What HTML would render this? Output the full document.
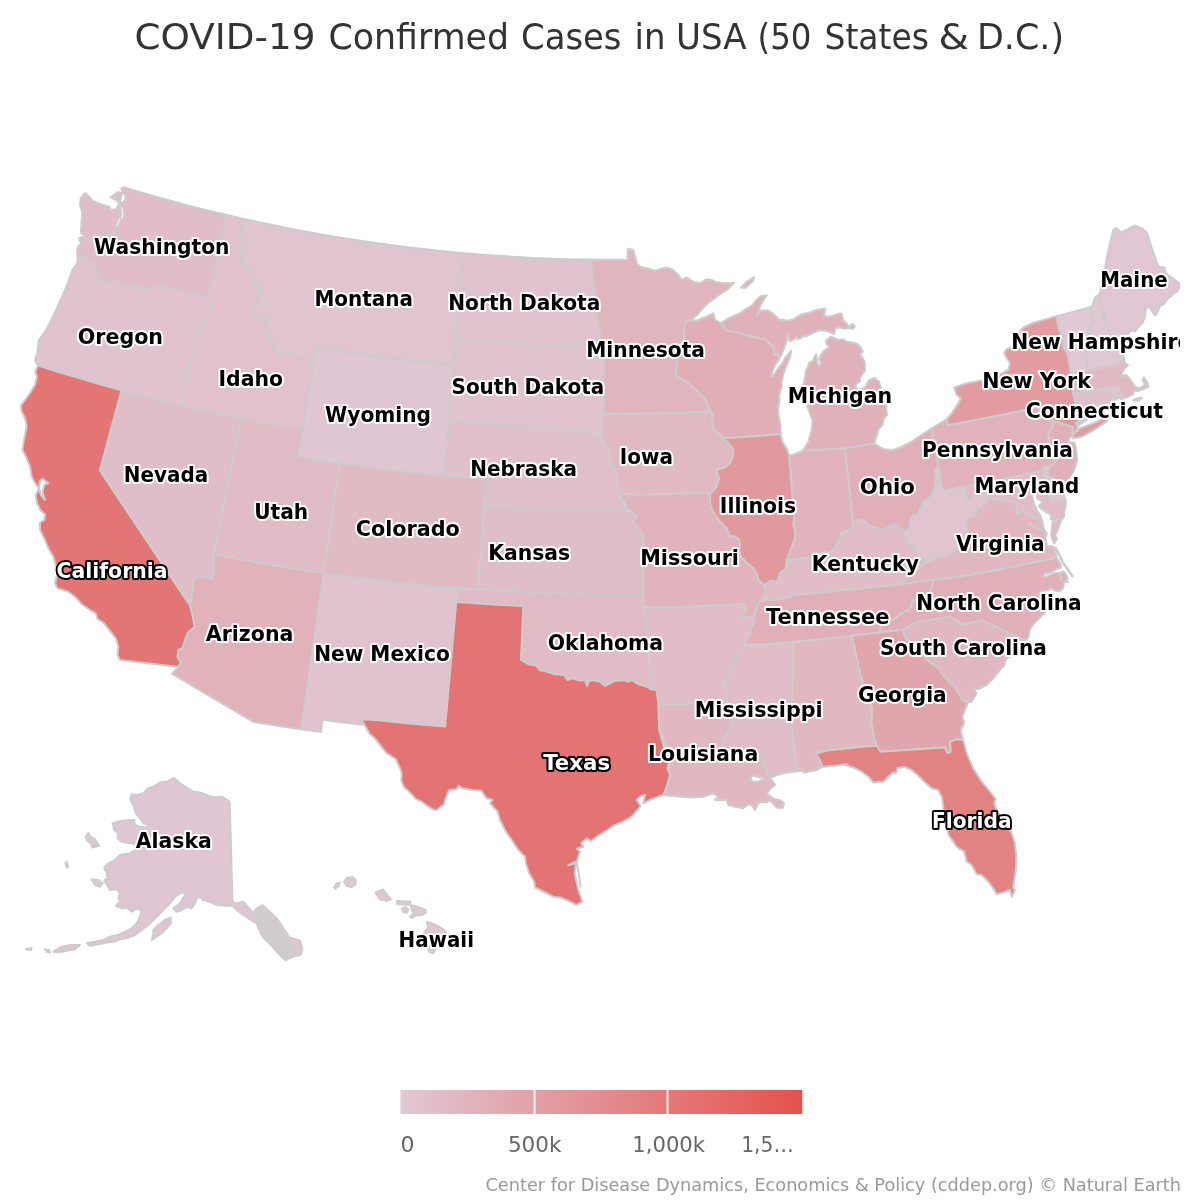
<!DOCTYPE html><html lang="en"><head><meta charset="utf-8"><title>COVID-19 Confirmed Cases in USA (50 States &amp; D.C.)</title>
<style>html,body{margin:0;padding:0;background:#fff}svg{display:block}text{font-family:"DejaVu Sans","Liberation Sans",sans-serif}
.st{stroke:#ccc;stroke-width:2;stroke-linejoin:round}.lb{font-weight:bold;font-size:21px;text-anchor:middle;paint-order:stroke;stroke-linejoin:round}
.d{fill:#000;stroke:#fff;stroke-width:4px}.l{fill:#fff;stroke:#000;stroke-width:4px}</style></head><body>
<svg width="1200" height="1200" viewBox="0 0 1200 1200">
<defs><clipPath id="plot"><rect x="20" y="0" width="1160" height="1200"/></clipPath>
<linearGradient id="lg" x1="0" x2="1" y1="0" y2="0"><stop offset="0" stop-color="#e0c8d4"/><stop offset="1" stop-color="#e5514b"/></linearGradient></defs>
<rect width="1200" height="1200" fill="#fff"/>
<text y="48.5" font-size="36" fill="#333"><tspan x="134.5" textLength="181" lengthAdjust="spacingAndGlyphs">COVID-19</tspan> <tspan x="328.5" textLength="180.5" lengthAdjust="spacingAndGlyphs">Confirmed</tspan> <tspan x="521" textLength="100.5" lengthAdjust="spacingAndGlyphs">Cases</tspan> <tspan x="634.5" textLength="31" lengthAdjust="spacingAndGlyphs">in</tspan> <tspan x="676" textLength="70.5" lengthAdjust="spacingAndGlyphs">USA</tspan> <tspan x="757.5" textLength="54" lengthAdjust="spacingAndGlyphs">(50</tspan> <tspan x="824.5" textLength="104.5" lengthAdjust="spacingAndGlyphs">States</tspan> <tspan x="938.5" textLength="30.5" lengthAdjust="spacingAndGlyphs">&amp;</tspan> <tspan x="977" textLength="87" lengthAdjust="spacingAndGlyphs">D.C.)</tspan></text>
<g clip-path="url(#plot)"><g class="st">
<path id="VT" fill="#e0c8d4" fill-rule="evenodd" d="M1056.7 316.1L1072.8 311.9L1072.8 311.9L1091.9 306.7L1090.8 309.2L1093.3 320.0L1089.2 329.2L1087.0 340.0L1085.8 351.7L1086.7 361.7L1087.5 370.5L1070.8 374.0L1069.2 363.3L1067.5 353.3L1063.3 346.7L1061.7 336.7L1058.3 326.7Z"/>
<path id="ME" fill="#e0c7d3" fill-rule="evenodd" d="M1097.5 295.8L1100.0 293.3L1104.2 275.0L1106.7 258.3L1110.0 243.3L1113.3 230.0L1115.8 228.0L1121.7 232.5L1126.7 230.0L1135.0 225.5L1141.7 228.3L1146.7 232.5L1155.8 260.0L1158.3 266.7L1164.2 267.5L1165.8 273.3L1171.7 277.5L1179.2 283.3L1180.5 285.0L1177.3 291.8L1174.3 292.5L1172.0 295.5L1167.5 298.5L1165.3 302.3L1162.3 305.3L1161.0 303.0L1159.0 308.5L1157.0 313.5L1155.1 315.4L1152.5 312.0L1149.1 306.0L1145.8 309.0L1145.0 316.5L1142.8 322.5L1139.0 326.3L1135.3 331.5L1133.0 330.0L1130.0 331.5L1126.3 335.3L1122.5 341.0L1119.2 346.7L1110.5 336.0L1107.8 328.3L1100.0 303.0Z"/>
<path id="NH" fill="#e0c7d3" fill-rule="evenodd" d="M1091.9 306.7L1095.0 297.5L1097.5 295.8L1100.0 303.0L1107.8 328.3L1110.5 336.0L1119.2 346.7L1122.5 353.3L1124.2 358.3L1124.5 362.5L1122.5 360.5L1116.7 364.5L1087.5 370.5L1086.7 361.7L1085.8 351.7L1087.0 340.0L1089.2 329.2L1093.3 320.0L1090.8 309.2Z"/>
<path id="HI" fill="#e0c7d2" fill-rule="evenodd" d="M334.0 887.3L336.7 883.3L339.7 882.7L338.7 886.0L335.3 888.7ZM344.0 882.0L346.7 878.0L352.7 877.1L355.7 880.0L355.3 884.7L351.3 887.1L346.7 886.0ZM375.3 892.7L382.7 889.3L386.7 894.0L390.7 899.3L386.7 900.7L380.0 899.3ZM396.7 901.1L410.7 901.7L409.6 904.7L397.3 904.3ZM402.0 908.7L405.3 906.9L408.3 909.6L406.7 912.7L403.3 912.0ZM410.7 905.3L414.7 906.0L418.7 907.3L425.3 910.0L426.0 912.7L421.3 915.3L416.0 915.3L412.0 910.7ZM409.6 916.7L412.7 914.4L414.9 916.0L412.7 918.0ZM426.7 922.0L430.7 922.7L438.7 926.7L445.3 930.7L446.7 934.7L440.0 942.7L436.0 948.0L433.3 953.3L429.3 952.0L426.7 945.3L424.7 938.7L424.0 932.7L428.0 928.0Z"/>
<path id="WY" fill="#e0c6d2" fill-rule="evenodd" d="M316.3 347.3L336.8 350.7L356.4 353.6L376.0 356.3L395.7 358.8L415.3 361.1L435.0 363.1L453.7 364.9L448.8 420.4L443.9 475.7L424.0 473.8L403.1 471.6L382.2 469.2L361.4 466.6L339.5 463.5L319.8 460.6L319.8 460.6L298.0 457.1L302.6 429.7L313.9 361.9Z"/>
<path id="AK" fill="#e0c6d2" fill-rule="evenodd" d="M174.2 778.0L166.7 781.7L160.0 782.5L153.3 786.7L148.3 788.3L143.3 793.3L136.7 795.0L131.7 794.2L130.0 799.2L133.3 805.0L135.8 813.3L140.0 818.3L143.3 823.3L148.3 825.0L146.7 827.5L140.0 826.7L135.0 825.0L134.2 820.0L130.0 820.0L121.7 820.8L112.5 823.3L114.2 830.0L118.3 833.3L117.5 838.3L121.7 841.7L130.0 843.3L136.7 844.2L137.5 848.3L130.0 853.3L120.0 855.0L115.0 860.0L108.3 863.3L104.2 867.5L106.7 873.3L107.5 878.3L104.2 880.8L108.3 886.7L110.0 890.0L116.7 889.2L120.0 893.3L118.3 898.3L120.0 901.7L115.8 905.8L121.7 908.3L126.7 907.5L131.7 911.7L136.7 908.3L141.7 910.8L140.0 916.7L136.7 923.3L131.7 928.3L125.0 931.7L118.3 935.0L110.0 936.7L103.3 940.0L95.0 941.7L86.7 943.3L90.0 945.8L98.3 944.2L106.7 942.5L113.3 941.7L120.0 939.2L126.7 938.3L135.0 935.0L141.7 930.0L148.3 925.0L153.3 920.0L158.3 915.0L165.0 908.3L170.0 903.3L175.0 896.7L180.0 893.3L185.0 891.7L182.5 890.8L185.0 895.0L180.0 903.3L173.3 908.3L176.7 911.7L181.7 910.0L186.7 906.7L191.7 908.3L195.0 903.3L196.7 898.3L200.0 896.7L203.3 900.0L210.0 901.7L216.7 905.0L226.7 905.8L232.5 905.8L237.5 910.8L250.8 920.0L256.7 923.3L258.3 928.3L263.3 937.5L271.7 945.8L278.3 953.3L285.4 960.4L289.2 958.3L295.0 956.2L300.0 955.0L302.5 949.2L300.0 940.8L289.2 937.5L286.7 933.3L276.7 918.3L262.5 905.0L256.7 908.3L253.3 913.3L243.3 901.7L237.0 903.5L232.5 902.5L229.7 801.7L221.7 796.7L216.7 797.5L208.3 795.8L200.0 792.5L193.3 791.7L186.7 787.5L180.0 783.3ZM85.8 836.7L88.3 833.0L90.8 836.7L95.0 839.2L99.2 845.8L95.0 846.7L92.5 847.5L90.8 843.3L86.7 840.0ZM91.7 879.2L98.3 880.0L102.5 883.3L100.0 886.7L95.0 885.0ZM65.3 863.3L66.7 861.7L68.3 866.7L66.7 867.5ZM153.3 930.0L158.3 925.0L165.0 920.0L170.8 917.5L170.8 923.3L166.7 928.3L161.7 933.3L156.7 936.7L151.7 940.0L153.3 935.0ZM53.3 951.7L60.0 947.5L70.0 945.0L80.0 945.0L75.0 949.2L66.7 950.8L58.3 952.5ZM45.0 949.2L49.2 950.0L50.0 952.5L46.7 951.7ZM25.8 949.2L31.7 948.0L30.8 950.0Z"/>
<path id="DE" fill="#e0c6d1" fill-rule="evenodd" d="M1042.0 470.8L1043.0 468.3L1045.6 466.5L1049.2 466.6L1047.1 473.0L1048.3 477.0L1053.1 481.6L1054.7 486.9L1060.8 491.2L1062.9 493.6L1066.0 500.3L1050.5 501.8Z"/>
<path id="WV" fill="#e0c5d1" fill-rule="evenodd" d="M905.0 531.7L910.0 528.3L910.0 523.3L913.3 515.0L917.5 515.0L920.0 508.3L923.3 501.7L930.8 496.7L934.2 490.0L935.8 480.0L935.0 471.7L938.4 465.4L942.7 490.5L964.6 486.6L966.5 501.0L971.0 497.5L976.0 493.5L981.0 491.5L986.0 493.0L990.0 497.0L986.0 504.0L980.0 508.0L978.3 508.3L973.3 516.7L967.5 518.3L966.7 525.0L966.7 531.7L963.3 540.0L960.0 546.7L953.3 551.7L946.7 556.7L940.0 555.8L933.3 560.0L926.7 561.7L923.3 560.0L916.7 553.3L911.7 546.7L906.7 540.0Z"/>
<path id="RI" fill="#e0c5d0" fill-rule="evenodd" d="M1111.7 400.0L1109.2 387.5L1119.0 386.2L1120.0 390.0L1122.5 394.5L1124.5 398.0L1121.0 399.5L1119.0 397.5L1116.0 399.5Z"/>
<path id="MT" fill="#e0c4d0" fill-rule="evenodd" d="M243.7 218.9L262.8 223.1L281.0 226.8L299.2 230.4L317.4 233.7L335.7 236.9L354.0 239.8L372.4 242.6L390.8 245.1L409.2 247.5L427.6 249.6L446.1 251.5L463.6 253.2L456.0 338.8L453.7 364.9L435.0 363.1L415.3 361.1L395.7 358.8L376.0 356.3L356.4 353.6L336.8 350.7L316.3 347.3L313.9 361.9L300.0 357.5L290.0 352.5L277.5 355.0L275.0 345.0L271.2 340.0L265.0 317.5L260.0 320.0L252.5 317.5L255.0 307.5L261.2 290.0L255.0 285.0L250.0 270.0L241.2 260.0L238.8 247.5Z"/>
<path id="OR" fill="#e0c3cf" fill-rule="evenodd" d="M77.5 255.3L86.7 258.3L93.3 264.2L96.3 270.0L98.3 277.5L102.5 281.3L110.0 282.0L116.7 280.3L122.5 285.0L126.7 285.8L135.0 285.0L143.3 288.7L153.3 286.7L170.0 287.5L208.8 297.3L213.8 307.5L207.5 320.0L197.5 332.5L192.5 340.0L197.5 346.2L192.6 356.6L181.1 405.3L161.6 400.6L141.5 395.5L121.5 390.2L101.5 384.7L81.6 378.9L61.8 373.0L37.9 365.5L35.0 360.0L37.5 352.5L38.8 340.0L46.2 330.0L53.8 315.0L66.2 287.5L72.5 270.0L77.5 262.5Z"/>
<path id="ND" fill="#e0c3ce" fill-rule="evenodd" d="M463.6 253.2L483.1 254.8L501.6 256.1L520.1 257.2L538.6 258.2L557.2 258.9L575.7 259.4L590.0 259.6L592.5 271.7L593.3 285.0L595.8 296.7L597.5 310.0L598.3 323.3L600.0 333.3L600.8 343.3L583.6 345.5L565.7 345.1L547.9 344.5L530.0 343.8L512.1 342.8L494.3 341.7L476.5 340.5L456.0 338.8Z"/>
<path id="NM" fill="#e0c3ce" fill-rule="evenodd" d="M323.6 573.3L346.8 576.5L368.8 579.3L390.9 581.9L413.0 584.2L435.2 586.3L457.3 588.1L456.3 601.9L445.2 726.5L423.0 724.7L399.3 722.5L375.7 720.0L361.3 719.2L362.4 724.7L339.5 721.9L339.5 721.9L322.7 719.7L321.0 732.1L301.1 729.3Z"/>
<path id="SD" fill="#e0c3ce" fill-rule="evenodd" d="M456.0 338.8L476.5 340.5L494.3 341.7L512.1 342.8L530.0 343.8L547.9 344.5L565.7 345.1L583.6 345.5L600.8 343.3L602.5 353.3L605.0 360.0L603.7 365.0L603.8 413.7L601.7 418.3L603.3 425.0L600.8 431.7L600.8 435.3L593.3 435.3L585.0 432.0L576.7 430.3L570.0 432.0L561.7 426.7L551.7 426.6L531.3 425.9L510.9 424.9L490.5 423.6L470.2 422.2L448.8 420.4L453.7 364.9Z"/>
<path id="ID" fill="#e0c1cc" fill-rule="evenodd" d="M226.0 214.8L243.7 218.9L238.8 247.5L241.2 260.0L250.0 270.0L255.0 285.0L261.2 290.0L255.0 307.5L252.5 317.5L260.0 320.0L265.0 317.5L271.2 340.0L275.0 345.0L277.5 355.0L290.0 352.5L300.0 357.5L313.9 361.9L302.6 429.7L283.2 426.3L262.8 422.6L241.6 418.5L222.2 414.5L201.9 410.0L181.1 405.3L192.6 356.6L197.5 346.2L192.5 340.0L197.5 332.5L207.5 320.0L213.8 307.5L208.8 297.3L210.3 285.0L212.5 276.7L214.2 270.0Z"/>
<path id="CT" fill="#e0c0cb" fill-rule="evenodd" d="M1073.3 394.2L1109.2 387.5L1111.7 400.0L1102.4 411.6L1091.4 415.1L1088.1 418.8L1077.7 425.8L1075.6 423.4L1080.0 419.2L1077.9 417.1L1076.0 407.0Z"/>
<path id="NE" fill="#e0c0cb" fill-rule="evenodd" d="M448.8 420.4L470.2 422.2L490.5 423.6L510.9 424.9L531.3 425.9L551.7 426.6L561.7 426.7L570.0 432.0L576.7 430.3L585.0 432.0L593.3 435.3L600.8 435.3L605.0 443.3L608.3 450.0L610.8 456.7L611.7 463.3L615.0 470.0L616.7 478.3L617.5 486.7L620.0 493.3L622.5 500.0L626.7 506.7L627.6 510.9L612.9 510.9L591.5 510.8L570.2 510.5L548.9 509.9L527.6 509.1L506.3 508.0L484.0 506.6L485.8 479.0L465.9 477.5L465.9 477.5L443.9 475.7Z"/>
<path id="NV" fill="#e0bec9" fill-rule="evenodd" d="M121.5 390.2L141.5 395.5L161.6 400.6L181.1 405.3L201.9 410.0L222.2 414.5L241.6 418.5L214.1 554.4L213.3 579.2L205.0 577.5L196.7 575.8L193.3 581.7L192.5 595.0L190.0 605.8L99.8 470.5Z"/>
<path id="KS" fill="#e0bec9" fill-rule="evenodd" d="M484.0 506.6L506.3 508.0L527.6 509.1L548.9 509.9L570.2 510.5L591.5 510.8L612.9 510.9L627.6 510.9L631.7 511.7L636.7 515.8L633.3 523.3L640.0 530.0L643.3 535.0L643.6 593.9L635.1 594.0L612.9 594.1L590.6 594.0L568.4 593.6L546.2 593.0L523.9 592.1L501.7 591.0L478.4 589.6Z"/>
<path id="WA" fill="#e0bdc8" fill-rule="evenodd" d="M123.3 187.2L136.9 191.2L154.7 196.4L172.6 201.3L190.5 206.1L208.5 210.6L226.0 214.8L214.2 270.0L212.5 276.7L210.3 285.0L208.8 297.3L170.0 287.5L153.3 286.7L143.3 288.7L135.0 285.0L126.7 285.8L122.5 285.0L116.7 280.3L110.0 282.0L102.5 281.3L98.3 277.5L96.3 270.0L93.3 264.2L86.7 258.3L77.5 255.3L77.0 250.7L78.3 246.7L81.7 243.0L79.7 241.0L79.3 238.0L85.3 236.0L81.3 233.3L81.0 230.7L81.7 220.0L82.3 212.0L80.0 205.3L80.7 198.0L85.3 193.0L93.3 201.3L102.0 204.7L109.3 206.7L110.3 209.3L115.3 210.0L117.0 207.7L119.0 204.0L123.3 202.0L125.7 199.3L125.3 195.3L123.3 192.7L121.3 188.7Z"/>
<path id="AR" fill="#e0bdc8" fill-rule="evenodd" d="M643.8 607.7L668.8 607.2L687.5 606.6L706.1 605.8L724.8 604.9L744.2 603.7L746.7 609.2L743.3 614.2L739.7 617.5L754.2 616.7L753.3 624.2L750.0 628.3L750.8 633.3L747.5 638.3L745.0 644.2L739.2 653.3L735.8 660.0L733.3 666.7L728.3 671.7L729.2 676.7L724.2 683.3L725.8 690.0L727.5 698.3L726.7 703.0L706.7 703.1L683.2 704.0L658.3 704.2L656.7 690.0L650.8 689.2L649.2 663.3L646.7 630.0Z"/>
<path id="MS" fill="#e0bdc8" fill-rule="evenodd" d="M745.0 644.2L761.3 644.3L779.5 642.9L793.3 641.7L791.7 726.7L796.7 768.3L802.5 770.8L798.3 771.3L786.7 772.5L776.7 775.0L769.2 778.7L766.7 771.7L763.3 763.3L761.7 755.0L757.2 756.2L733.2 757.7L720.0 755.0L721.7 750.0L722.5 742.5L725.8 735.0L730.0 728.3L733.3 720.0L730.0 711.7L726.7 703.0L727.5 698.3L725.8 690.0L724.2 683.3L729.2 676.7L728.3 671.7L733.3 666.7L735.8 660.0L739.2 653.3Z"/>
<path id="KY" fill="#e0bdc7" fill-rule="evenodd" d="M786.7 560.0L790.0 559.2L796.7 560.0L803.3 557.5L810.0 558.3L818.3 553.3L825.0 551.7L830.0 553.3L836.7 545.0L840.0 538.3L840.8 533.3L846.7 531.7L851.7 528.3L853.3 523.3L856.7 520.8L863.3 520.0L868.3 525.0L873.3 526.7L880.0 530.0L886.7 528.3L895.0 523.3L898.3 527.5L905.0 531.7L906.7 540.0L911.7 546.7L916.7 553.3L923.3 560.0L926.7 561.7L920.0 566.7L911.7 575.0L903.3 581.7L895.0 585.0L860.0 588.7L826.7 591.7L790.8 595.5L790.0 598.0L760.0 601.3L764.2 598.3L765.8 590.8L764.0 585.0L770.8 580.8L777.5 581.7L780.0 573.3L785.8 568.3Z"/>
<path id="UT" fill="#e1bbc6" fill-rule="evenodd" d="M241.6 418.5L262.8 422.6L283.2 426.3L302.6 429.7L298.0 457.1L319.8 460.6L319.8 460.6L339.5 463.5L323.6 573.3L302.7 570.2L280.8 566.6L258.9 562.9L237.0 558.8L214.1 554.4Z"/>
<path id="OK" fill="#e1bbc6" fill-rule="evenodd" d="M457.3 588.1L478.4 589.6L501.7 591.0L523.9 592.1L546.2 593.0L568.4 593.6L590.6 594.0L612.9 594.1L635.1 594.0L643.6 593.9L643.8 607.7L646.7 630.0L649.2 663.3L650.8 689.2L646.7 686.7L638.3 684.2L631.7 680.0L628.3 681.7L623.3 680.0L620.0 680.8L615.0 680.8L605.0 685.8L600.0 681.7L593.3 680.0L589.2 680.8L587.0 685.8L585.0 680.0L580.0 680.8L573.3 678.3L567.5 680.0L564.2 675.0L555.0 674.2L545.8 671.3L539.2 670.0L536.7 665.8L528.3 664.2L521.0 659.8L523.3 606.0L501.0 604.9L478.6 603.5L456.3 601.9Z"/>
<path id="MD" fill="#e1bbc5" fill-rule="evenodd" d="M964.6 486.6L985.2 482.7L1006.2 478.5L1027.2 474.1L1042.0 470.8L1050.5 501.8L1066.0 500.3L1065.5 507.5L1064.0 512.0L1064.0 516.5L1052.5 522.5L1053.5 518.0L1050.9 519.5L1051.2 514.2L1047.5 512.8L1041.5 509.0L1038.5 506.0L1043.0 502.2L1037.0 498.5L1036.8 488.1L1040.6 480.2L1038.6 476.4L1036.4 481.1L1031.9 487.8L1032.8 494.7L1031.8 496.2L1034.8 505.2L1037.0 510.5L1040.0 515.0L1042.2 521.0L1034.8 518.0L1027.2 514.2L1022.0 509.8L1019.0 514.2L1016.0 512.0L1017.5 506.8L1015.0 503.0L1008.0 501.0L998.0 500.0L990.0 497.0L986.0 493.0L981.0 491.5L976.0 493.5L971.0 497.5L966.5 501.0Z"/>
<path id="CO" fill="#e1bbc4" fill-rule="evenodd" d="M339.5 463.5L361.4 466.6L382.2 469.2L403.1 471.6L424.0 473.8L443.9 475.7L465.9 477.5L465.9 477.5L485.8 479.0L484.0 506.6L478.4 589.6L457.3 588.1L435.2 586.3L413.0 584.2L390.9 581.9L368.8 579.3L346.8 576.5L323.6 573.3Z"/>
<path id="IA" fill="#e1b9c3" fill-rule="evenodd" d="M603.8 413.7L623.0 413.7L640.7 413.5L658.4 413.2L676.1 412.7L693.9 412.0L709.6 411.2L710.0 410.0L712.5 415.0L712.5 421.7L714.2 430.0L719.2 433.3L723.0 438.0L728.3 443.3L733.3 449.2L733.3 455.0L730.8 461.7L725.0 467.5L718.3 469.2L716.7 473.3L719.2 478.3L716.7 486.7L711.7 492.5L710.0 494.0L697.4 493.0L676.3 493.8L655.2 494.4L634.0 494.7L620.0 493.3L617.5 486.7L616.7 478.3L615.0 470.0L611.7 463.3L610.8 456.7L608.3 450.0L605.0 443.3L600.8 435.3L600.8 431.7L603.3 425.0L601.7 418.3Z"/>
<path id="MA" fill="#e1b9c3" fill-rule="evenodd" d="M1070.8 374.0L1087.5 370.5L1116.7 364.5L1122.5 360.5L1124.5 362.5L1128.0 365.0L1124.0 369.0L1122.0 373.0L1121.0 376.5L1126.0 375.0L1130.0 379.0L1133.0 384.0L1136.0 387.5L1140.5 388.0L1145.0 384.5L1142.5 379.5L1144.0 377.5L1147.0 382.0L1148.5 386.5L1144.0 389.0L1138.0 391.0L1134.5 390.0L1133.0 394.5L1130.0 395.0L1128.0 397.0L1124.5 398.0L1122.5 394.5L1120.0 390.0L1119.0 386.2L1109.2 387.5L1073.3 394.2ZM1133.0 400.5L1137.5 398.5L1142.0 397.8L1139.0 400.8Z"/>
<path id="SC" fill="#e1b8c2" fill-rule="evenodd" d="M902.5 630.0L916.7 621.7L950.0 616.7L958.3 620.8L960.0 624.2L983.3 620.8L1025.8 640.8L1020.0 650.0L1006.7 658.3L1004.2 665.0L1000.0 670.0L993.3 678.3L986.7 685.0L978.3 689.2L973.3 688.3L976.7 693.3L971.7 701.7L968.0 702.5L962.5 700.0L955.0 687.5L945.0 677.5L937.5 667.5L930.0 662.5L922.5 655.0L912.5 645.0L905.0 637.5Z"/>
<path id="LA" fill="#e1b8c1" fill-rule="evenodd" d="M658.3 704.2L683.2 704.0L706.7 703.1L726.7 703.0L730.0 711.7L733.3 720.0L730.0 728.3L725.8 735.0L722.5 742.5L721.7 750.0L720.0 755.0L733.2 757.7L757.2 756.2L761.7 755.0L763.3 763.3L766.7 771.7L769.2 778.7L772.5 780.8L775.0 785.0L770.8 788.3L766.7 793.3L770.8 796.7L775.0 799.2L780.0 800.0L784.2 803.3L782.5 808.3L776.7 807.5L770.0 800.0L766.7 802.5L761.7 801.7L758.3 803.3L755.0 810.0L750.8 804.2L746.7 805.0L743.3 808.3L735.0 806.7L728.3 805.0L726.7 800.0L715.0 800.0L718.3 796.7L713.3 793.3L708.3 795.0L703.3 796.7L693.3 797.5L681.7 796.7L670.0 795.8L663.3 795.0L666.7 786.7L670.0 775.0L667.5 768.3L670.0 760.0L665.0 746.7L664.2 740.0L659.2 730.0L670.0 768.3L668.3 760.0L666.7 748.3L664.2 740.0L659.2 730.0ZM750.0 780.0L752.5 775.3L760.0 777.5L764.2 779.2L758.3 781.7L753.3 781.7Z"/>
<path id="VA" fill="#e1b8c1" fill-rule="evenodd" d="M895.0 585.0L903.3 581.7L911.7 575.0L920.0 566.7L926.7 561.7L933.3 560.0L940.0 555.8L946.7 556.7L953.3 551.7L960.0 546.7L963.3 540.0L966.7 531.7L966.7 525.0L967.5 518.3L973.3 516.7L978.3 508.3L980.0 508.0L986.0 504.0L990.0 497.0L998.0 500.0L1008.0 501.0L1015.0 503.0L1017.5 506.8L1016.0 512.0L1019.0 514.2L1022.0 509.8L1027.2 514.2L1034.8 518.0L1042.2 521.0L1043.8 528.5L1046.8 533.8L1045.2 537.5L1046.8 545.0L1049.0 546.5L1052.0 546.0L1055.0 548.0L1056.5 557.7L1045.9 559.9L1024.0 564.6L1002.0 569.0L980.1 573.2L958.0 577.1L933.3 580.0ZM1064.0 516.5L1061.0 521.0L1058.8 527.0L1055.8 533.8L1055.0 535.2L1056.9 539.0L1054.2 543.5L1053.5 542.0L1051.2 536.0L1052.0 527.0L1052.5 522.5Z"/>
<path id="AL" fill="#e1b7c0" fill-rule="evenodd" d="M793.3 641.7L806.8 640.5L823.9 638.8L840.9 637.0L851.7 635.8L862.5 682.5L872.5 707.5L871.5 720.0L873.3 733.3L876.7 745.8L865.1 746.4L847.2 748.4L829.2 750.3L815.8 753.3L820.0 760.0L822.5 766.7L816.7 770.0L810.0 771.2L804.2 772.7L802.5 770.8L796.7 768.3L791.7 726.7Z"/>
<path id="MN" fill="#e1b5be" fill-rule="evenodd" d="M590.0 259.6L603.6 259.8L622.1 259.8L627.5 260.0L627.8 248.7L633.3 249.7L636.7 263.3L640.0 266.7L646.7 268.3L655.0 270.8L660.0 269.2L666.7 267.5L673.3 270.0L679.2 275.8L681.7 280.0L686.7 277.5L693.3 281.7L700.0 283.3L706.7 279.2L711.7 280.0L715.0 281.7L723.3 283.3L734.2 283.0L726.7 290.0L716.7 296.7L706.7 304.2L700.0 311.7L693.3 318.3L689.2 320.8L685.0 322.5L684.2 330.0L684.2 340.0L680.8 346.7L678.3 356.7L676.7 366.7L675.8 375.0L681.7 379.2L688.3 383.3L698.3 391.7L706.7 400.0L709.6 411.2L693.9 412.0L676.1 412.7L658.4 413.2L640.7 413.5L623.0 413.7L603.8 413.7L603.7 365.0L605.0 360.0L602.5 353.3L600.8 343.3L600.0 333.3L598.3 323.3L597.5 310.0L595.8 296.7L593.3 285.0L592.5 271.7Z"/>
<path id="MO" fill="#e1b4bd" fill-rule="evenodd" d="M620.0 493.3L634.0 494.7L655.2 494.4L676.3 493.8L697.4 493.0L710.0 494.0L710.0 500.0L710.8 506.7L714.2 513.3L720.0 521.7L726.7 528.3L730.0 536.7L733.3 535.8L738.3 538.3L740.0 543.3L739.2 550.0L740.8 556.7L746.7 562.5L753.3 568.3L756.7 573.3L758.3 580.0L764.0 585.0L765.8 590.8L764.2 598.3L760.0 601.3L756.7 608.3L754.2 616.7L739.7 617.5L743.3 614.2L746.7 609.2L744.2 603.7L724.8 604.9L706.1 605.8L687.5 606.6L668.8 607.2L643.8 607.7L643.6 593.9L643.3 535.0L640.0 530.0L633.3 523.3L636.7 515.8L631.7 511.7L627.6 510.9L626.7 506.7L622.5 500.0Z"/>
<path id="IN" fill="#e1b3bc" fill-rule="evenodd" d="M789.2 455.8L795.0 454.2L803.3 450.3L845.0 448.3L853.3 523.3L851.7 528.3L846.7 531.7L840.8 533.3L840.0 538.3L836.7 545.0L830.0 553.3L825.0 551.7L818.3 553.3L810.0 558.3L803.3 557.5L796.7 560.0L790.0 559.2L786.7 560.0L789.2 553.3L791.7 546.7L795.0 538.3L795.3 531.7L793.3 524.2L794.2 516.7L791.3 483.3Z"/>
<path id="PA" fill="#e1b2bb" fill-rule="evenodd" d="M931.7 428.3L940.0 423.3L946.7 419.2L947.5 425.0L962.9 422.6L983.3 418.6L1003.6 414.5L1023.8 410.0L1036.9 407.1L1041.9 410.2L1045.5 416.5L1049.5 419.8L1054.4 421.2L1051.2 428.8L1047.9 433.9L1049.7 436.9L1048.2 441.8L1051.8 444.9L1055.9 449.6L1060.4 452.9L1059.3 456.5L1055.1 461.8L1052.4 464.7L1049.2 466.6L1045.6 466.5L1043.0 468.3L1042.0 470.8L1027.2 474.1L1006.2 478.5L985.2 482.7L964.6 486.6L942.7 490.5L938.4 465.4Z"/>
<path id="AZ" fill="#e1b2ba" fill-rule="evenodd" d="M214.1 554.4L237.0 558.8L258.9 562.9L280.8 566.6L302.7 570.2L323.6 573.3L301.1 729.3L278.6 726.0L253.2 721.9L171.8 673.6L178.3 667.0L180.8 662.5L177.5 656.7L178.3 650.0L182.5 648.3L185.0 640.0L187.5 633.3L194.7 626.7L192.5 615.0L190.0 605.8L192.5 595.0L193.3 581.7L196.7 575.8L205.0 577.5L213.3 579.2Z"/>
<path id="NJ" fill="#e1b1ba" fill-rule="evenodd" d="M1054.4 421.2L1072.8 427.0L1072.2 435.7L1069.2 438.7L1068.7 442.9L1074.4 442.3L1076.1 449.0L1077.1 460.2L1074.5 469.4L1070.6 476.1L1066.2 485.7L1064.3 488.1L1064.1 481.3L1058.5 481.2L1052.1 477.6L1048.4 475.6L1048.1 471.4L1049.2 466.6L1052.4 464.7L1055.1 461.8L1059.3 456.5L1060.4 452.9L1055.9 449.6L1051.8 444.9L1048.2 441.8L1049.7 436.9L1047.9 433.9L1051.2 428.8Z"/>
<path id="MI" fill="#e1b1ba" fill-rule="evenodd" d="M720.8 323.3L728.3 318.3L736.7 315.0L740.0 313.1L746.2 308.8L752.5 305.0L756.2 300.0L760.6 296.2L766.9 295.2L763.8 299.4L760.0 306.2L758.8 310.6L757.2 316.0L760.6 310.6L768.8 310.6L773.8 314.4L778.8 319.4L787.5 320.6L793.8 319.4L801.2 314.4L810.0 312.5L816.2 310.0L823.1 308.8L825.6 308.8L823.8 315.0L827.5 316.9L833.1 315.6L838.8 313.8L841.9 313.8L843.1 320.6L846.9 323.8L848.8 328.1L844.4 328.8L840.0 327.5L835.6 328.1L834.0 334.0L827.5 331.2L820.0 330.0L813.8 332.5L806.2 336.2L803.3 336.0L802.0 337.3L798.0 339.3L796.7 336.7L794.0 339.3L792.7 340.0L790.0 341.3L788.3 335.0L786.7 340.7L784.7 346.7L782.0 353.3L778.7 360.0L777.5 353.8L774.4 355.0L773.1 346.2L769.4 343.8L765.0 339.4L756.2 337.5L747.5 335.6L740.0 333.1L726.7 330.8ZM803.3 450.3L808.3 441.7L811.7 430.0L812.5 420.0L811.2 417.5L808.8 410.0L806.9 405.0L806.2 398.8L805.0 390.0L802.5 386.7L804.2 381.7L805.4 375.8L805.8 370.0L808.3 366.7L808.8 362.9L812.9 360.8L814.2 357.5L816.2 354.2L816.7 358.3L817.5 363.3L819.2 366.7L820.8 363.3L819.2 359.2L820.8 355.0L823.3 351.2L826.7 349.2L829.2 346.7L826.7 344.2L825.8 340.8L828.3 338.8L830.8 336.7L834.2 337.9L838.3 340.0L843.3 339.2L846.7 341.7L852.5 342.5L857.5 344.2L860.8 347.5L862.9 351.7L860.0 354.2L863.3 359.2L865.0 363.3L865.0 370.8L862.5 374.2L860.0 378.3L860.0 381.7L856.7 383.3L855.4 385.8L857.5 390.0L862.0 389.0L865.8 386.7L868.3 380.8L874.2 377.9L878.8 381.2L881.2 388.8L883.8 397.5L886.2 407.5L886.9 415.0L883.8 418.8L882.5 425.0L878.8 428.8L877.5 433.8L874.2 443.7L845.0 448.3ZM850.0 325.6L852.5 324.0L854.8 326.2L853.1 329.0L850.6 328.5ZM741.0 287.5L747.0 281.5L754.0 277.0L753.0 281.0L745.0 288.0Z"/>
<path id="OH" fill="#e1afb8" fill-rule="evenodd" d="M845.0 448.3L874.2 443.7L883.3 449.2L893.3 450.0L901.7 446.7L911.7 441.7L921.7 435.0L931.7 428.3L938.4 465.4L935.0 471.7L935.8 480.0L934.2 490.0L930.8 496.7L923.3 501.7L920.0 508.3L917.5 515.0L913.3 515.0L910.0 523.3L910.0 528.3L905.0 531.7L898.3 527.5L895.0 523.3L886.7 528.3L880.0 530.0L873.3 526.7L868.3 525.0L863.3 520.0L856.7 520.8L853.3 523.3Z"/>
<path id="NC" fill="#e1afb7" fill-rule="evenodd" d="M879.0 632.5L882.5 622.5L892.5 620.0L900.0 614.0L910.0 609.0L912.5 601.0L922.5 597.5L930.0 592.5L933.3 580.0L958.0 577.1L980.1 573.2L1002.0 569.0L1024.0 564.6L1045.9 559.9L1056.5 557.7L1057.9 559.8L1060.8 564.5L1060.8 568.0L1056.2 569.2L1050.3 572.7L1043.9 573.8L1043.3 577.3L1049.2 575.6L1055.0 572.7L1060.3 572.7L1063.5 571.5L1066.0 574.5L1067.3 577.5L1067.8 582.5L1065.5 581.0L1064.3 583.0L1063.2 588.0L1060.3 590.8L1057.3 591.3L1052.7 589.6L1049.8 587.8L1049.2 590.2L1042.2 590.8L1040.4 592.5L1039.0 596.0L1042.0 601.0L1048.0 606.0L1045.5 612.0L1039.5 618.0L1033.5 624.0L1029.8 630.0L1028.2 637.5L1025.8 640.8L983.3 620.8L960.0 624.2L958.3 620.8L950.0 616.7L916.7 621.7L902.5 630.0Z"/>
<path id="TN" fill="#e1afb7" fill-rule="evenodd" d="M760.0 601.3L790.0 598.0L790.8 595.5L826.7 591.7L860.0 588.7L895.0 585.0L933.3 580.0L930.0 592.5L922.5 597.5L912.5 601.0L910.0 609.0L900.0 614.0L892.5 620.0L882.5 622.5L879.0 632.5L851.7 635.8L840.9 637.0L823.9 638.8L806.8 640.5L793.3 641.7L779.5 642.9L761.3 644.3L745.0 644.2L747.5 638.3L750.8 633.3L750.0 628.3L753.3 624.2L754.2 616.7L756.7 608.3Z"/>
<path id="WI" fill="#e1aeb6" fill-rule="evenodd" d="M709.6 411.2L706.7 400.0L698.3 391.7L688.3 383.3L681.7 379.2L675.8 375.0L676.7 366.7L678.3 356.7L680.8 346.7L684.2 340.0L684.2 330.0L685.0 322.5L689.2 320.8L698.3 320.0L708.3 315.8L713.3 313.3L715.0 320.0L718.3 321.7L720.8 323.3L726.7 330.8L740.0 333.1L747.5 335.6L756.2 337.5L765.0 339.4L769.4 343.8L773.1 346.2L774.4 355.0L777.5 353.8L778.7 360.0L779.3 359.3L775.3 364.7L773.3 368.7L771.3 376.0L772.7 376.7L776.7 370.7L779.3 366.7L782.7 363.3L784.7 358.7L788.0 354.7L791.3 350.7L790.0 357.3L787.3 364.0L784.7 370.0L782.7 376.7L781.3 383.3L782.0 386.7L780.0 392.0L779.3 396.0L779.4 400.0L778.1 408.8L778.8 417.5L780.6 425.0L780.6 432.5L781.2 434.0L766.9 435.2L751.5 436.4L736.1 437.5L723.0 438.0L719.2 433.3L714.2 430.0L712.5 421.7L712.5 415.0L710.0 410.0Z"/>
<path id="GA" fill="#e1a6ad" fill-rule="evenodd" d="M851.7 635.8L879.0 632.5L902.5 630.0L905.0 637.5L912.5 645.0L922.5 655.0L930.0 662.5L937.5 667.5L945.0 677.5L955.0 687.5L962.5 700.0L968.0 702.5L965.0 710.0L962.5 716.7L964.2 723.3L960.8 730.0L962.5 738.3L963.3 740.0L956.7 739.2L950.0 741.7L950.8 751.7L947.5 753.3L945.0 747.5L880.8 751.7L876.7 745.8L873.3 733.3L871.5 720.0L872.5 707.5L862.5 682.5Z"/>
<path id="NY" fill="#e29ba0" fill-rule="evenodd" d="M946.7 419.2L951.7 413.3L958.3 403.3L960.8 398.3L956.7 395.0L954.2 387.5L966.7 383.3L980.0 380.8L993.3 378.3L1001.7 373.3L1008.3 370.0L1010.0 363.3L1006.7 358.3L1004.2 353.3L1006.7 349.2L1010.8 347.5L1016.7 335.8L1023.3 327.5L1031.7 323.3L1056.7 316.1L1058.3 326.7L1061.7 336.7L1063.3 346.7L1067.5 353.3L1069.2 363.3L1070.8 374.0L1073.3 394.2L1076.0 407.0L1077.9 417.1L1080.0 419.2L1075.6 423.4L1077.7 425.8L1076.1 431.3L1073.5 432.5L1072.8 427.0L1054.4 421.2L1049.5 419.8L1045.5 416.5L1041.9 410.2L1036.9 407.1L1023.8 410.0L1003.6 414.5L983.3 418.6L962.9 422.6L947.5 425.0ZM1072.8 438.4L1081.8 436.8L1093.2 430.4L1104.4 423.2L1113.7 414.7L1107.1 416.7L1103.4 415.4L1098.4 421.0L1087.6 425.5L1079.6 428.2L1076.6 431.8L1073.5 434.0Z"/>
<path id="IL" fill="#e2999e" fill-rule="evenodd" d="M723.0 438.0L736.1 437.5L751.5 436.4L766.9 435.2L781.2 434.0L780.8 435.8L782.5 441.7L787.5 450.0L789.2 455.8L791.3 483.3L794.2 516.7L793.3 524.2L795.3 531.7L795.0 538.3L791.7 546.7L789.2 553.3L786.7 560.0L785.8 568.3L780.0 573.3L777.5 581.7L770.8 580.8L764.0 585.0L758.3 580.0L756.7 573.3L753.3 568.3L746.7 562.5L740.8 556.7L739.2 550.0L740.0 543.3L738.3 538.3L733.3 535.8L730.0 536.7L726.7 528.3L720.0 521.7L714.2 513.3L710.8 506.7L710.0 500.0L710.0 494.0L711.7 492.5L716.7 486.7L719.2 478.3L716.7 473.3L718.3 469.2L725.0 467.5L730.8 461.7L733.3 455.0L733.3 449.2L728.3 443.3Z"/>
<path id="FL" fill="#e38283" fill-rule="evenodd" d="M876.7 745.8L880.8 751.7L945.0 747.5L947.5 753.3L950.8 751.7L950.0 741.7L956.7 739.2L963.3 740.0L966.7 753.3L973.3 768.3L981.7 781.7L990.0 791.7L995.8 799.2L994.2 803.3L997.5 811.7L1005.0 823.3L1011.7 833.3L1015.0 843.3L1016.3 856.7L1015.8 870.0L1014.2 880.0L1013.3 888.3L1015.0 890.0L1011.7 896.7L1010.0 890.0L1005.0 891.7L996.7 894.2L993.3 888.3L988.3 881.7L981.7 875.0L976.7 874.2L971.7 865.0L966.7 861.7L964.2 851.7L960.0 849.2L956.7 846.7L953.3 841.7L948.3 835.0L947.5 828.3L944.2 820.0L943.0 803.3L941.7 796.7L938.3 790.0L931.7 788.3L925.0 782.5L918.3 775.8L911.7 770.0L904.2 766.7L897.5 768.3L895.8 773.3L893.3 772.5L888.3 776.7L883.3 781.7L873.3 782.5L868.3 776.7L861.7 771.7L853.3 767.5L845.0 765.0L846.7 764.2L835.0 765.8L822.5 766.7L820.0 760.0L815.8 753.3L829.2 750.3L847.2 748.4L865.1 746.4Z"/>
<path id="CA" fill="#e37575" fill-rule="evenodd" d="M37.9 365.5L61.8 373.0L81.6 378.9L101.5 384.7L121.5 390.2L99.8 470.5L190.0 605.8L192.5 615.0L194.7 626.7L187.5 633.3L185.0 640.0L182.5 648.3L178.3 650.0L177.5 656.7L180.8 662.5L178.3 667.0L120.0 660.0L117.5 655.0L118.3 646.7L115.8 638.3L110.0 630.8L103.3 622.5L97.5 619.2L95.8 613.3L90.0 610.0L81.7 604.2L75.0 596.7L68.3 591.7L57.5 588.3L55.0 583.3L57.5 573.3L55.8 565.0L53.3 556.7L48.3 548.3L45.0 540.0L40.0 530.0L40.0 522.5L44.2 520.0L45.0 514.2L40.8 510.8L37.0 503.3L35.8 495.0L39.2 488.3L35.8 484.2L31.7 476.7L30.0 466.7L26.7 458.3L22.5 450.0L23.3 443.3L25.0 435.0L26.7 426.7L25.0 418.3L21.7 411.7L20.8 405.8L25.0 400.0L30.0 393.3L35.0 385.0L37.0 376.7L35.3 371.7ZM39.2 488.3L40.0 480.8L42.5 478.7L48.3 483.3L44.2 485.0L42.5 491.7L45.0 500.0L40.8 495.0Z"/>
<path id="TX" fill="#e47473" fill-rule="evenodd" d="M456.3 601.9L478.6 603.5L501.0 604.9L523.3 606.0L521.0 659.8L528.3 664.2L536.7 665.8L539.2 670.0L545.8 671.3L555.0 674.2L564.2 675.0L567.5 680.0L573.3 678.3L580.0 680.8L585.0 680.0L587.0 685.8L589.2 680.8L593.3 680.0L600.0 681.7L605.0 685.8L615.0 680.8L620.0 680.8L623.3 680.0L628.3 681.7L631.7 680.0L638.3 684.2L646.7 686.7L650.8 689.2L656.7 690.0L658.3 704.2L659.2 730.0L664.2 740.0L666.7 748.3L668.3 760.0L670.0 768.3L659.2 730.0L664.2 740.0L665.0 746.7L670.0 760.0L667.5 768.3L670.0 775.0L666.7 786.7L663.3 795.0L658.3 796.7L650.0 800.0L643.3 803.3L645.0 795.0L640.0 796.7L636.7 800.0L640.8 805.8L637.5 810.0L631.7 816.7L623.3 821.7L613.3 825.8L605.0 831.7L596.7 836.7L590.8 841.3L587.0 838.3L581.3 843.0L583.3 846.7L577.0 848.7L580.0 851.7L577.0 860.8L568.3 865.3L575.8 863.3L574.7 873.3L578.3 890.0L582.5 901.7L576.7 905.0L568.3 900.8L560.0 897.5L553.3 896.7L545.0 892.5L535.0 887.5L534.2 881.7L529.2 873.3L525.8 863.3L525.0 856.7L518.3 850.0L511.7 840.0L505.8 831.7L500.0 820.0L497.5 811.7L490.0 803.3L492.5 800.0L486.7 798.3L481.3 790.8L471.7 790.0L462.5 788.3L458.7 785.8L456.7 789.2L449.2 790.0L445.0 800.0L444.2 804.2L436.7 810.0L433.3 809.7L428.3 806.7L421.7 801.7L415.8 799.2L410.0 792.5L404.2 787.5L401.3 780.8L401.7 773.3L400.0 768.3L395.8 759.2L386.7 753.3L380.0 745.0L374.2 737.5L370.0 734.2L365.0 725.8L361.3 719.2L375.7 720.0L399.3 722.5L423.0 724.7L445.2 726.5Z"/>
<path fill="none" stroke-width="2.6" d="M1055.0 547.0L1058.5 553.4L1063.2 563.3L1068.4 570.3L1073.0 577.0"/>
<path fill="none" d="M576.7 861.7L578.3 871.7L580.8 887.5"/>
<path fill="#ccc" fill-opacity=".85" stroke="none" d="M256.7 923.3L255.0 913.0L257.5 909.0L262.5 906.5L268.0 912.0L275.0 920.0L280.0 928.0L286.0 936.0L291.0 942.0L296.0 948.0L297.0 955.0L289.2 958.3L285.4 960.4L278.3 953.3L271.7 945.8L263.3 937.5L258.3 928.3Z"/>
<path fill="none" d="M1060.2 572.7L1060.8 581.4"/>
<path fill="none" d="M1028.8 523.2L1035.5 527.0L1046.8 533.8"/>
<path fill="none" d="M1032.5 535.2L1040.0 540.5L1046.0 545.0"/>
<path fill="#d3c2c9" d="M110.7 197.3L118.0 192.0L122.0 193.3L121.0 197.3L119.7 202.7L116.0 200.0Z"/>
<path fill="none" stroke-width="2.6" d="M119.0 204.0L118.3 209.3L120.7 217.3L119.0 222.7L116.7 226.7L116.0 231.3L110.0 233.7L106.0 235.3M119.0 204.0L122.7 208.0L123.7 214.7L120.7 220.0"/>
<path fill="none" stroke="#fff" stroke-width=".9" d="M121.7 207.3L122.7 216.0L121.3 219.0M119.7 218.7L116.7 226.0"/>
</g><g class="lb">
<text class="d" x="161.75" y="253.5" textLength="135.5" lengthAdjust="spacingAndGlyphs">Washington</text>
<text class="d" x="363.75" y="305.5" textLength="98.5" lengthAdjust="spacingAndGlyphs">Montana</text>
<text class="d" x="524.25" y="310" textLength="152" lengthAdjust="spacingAndGlyphs">North Dakota</text>
<text class="d" x="645.6" y="357.2" textLength="118.8" lengthAdjust="spacingAndGlyphs">Minnesota</text>
<text class="d" x="120.4" y="343.5" textLength="85.25" lengthAdjust="spacingAndGlyphs">Oregon</text>
<text class="d" x="250.75" y="385.5" textLength="64.5" lengthAdjust="spacingAndGlyphs">Idaho</text>
<text class="d" x="378" y="421.5" textLength="106" lengthAdjust="spacingAndGlyphs">Wyoming</text>
<text class="d" x="527.85" y="393.5" textLength="152.7" lengthAdjust="spacingAndGlyphs">South Dakota</text>
<text class="d" x="840" y="403.2" textLength="104.4" lengthAdjust="spacingAndGlyphs">Michigan</text>
<text class="d" x="1134" y="287" textLength="67.5" lengthAdjust="spacingAndGlyphs">Maine</text>
<text class="d" x="1101.25" y="349.25" textLength="180" lengthAdjust="spacingAndGlyphs">New Hampshire</text>
<text class="d" x="1036.6" y="387.5" textLength="108.75" lengthAdjust="spacingAndGlyphs">New York</text>
<text class="d" x="1094.4" y="417.5" textLength="137.25" lengthAdjust="spacingAndGlyphs">Connecticut</text>
<text class="d" x="997.5" y="457" textLength="151" lengthAdjust="spacingAndGlyphs">Pennsylvania</text>
<text class="d" x="1026.9" y="493" textLength="104.75" lengthAdjust="spacingAndGlyphs">Maryland</text>
<text class="d" x="887.4" y="493.6" textLength="55.2" lengthAdjust="spacingAndGlyphs">Ohio</text>
<text class="d" x="646.4" y="463.5" textLength="53.2" lengthAdjust="spacingAndGlyphs">Iowa</text>
<text class="d" x="523.6" y="475.5" textLength="106.8" lengthAdjust="spacingAndGlyphs">Nebraska</text>
<text class="d" x="758" y="513.3" textLength="76.4" lengthAdjust="spacingAndGlyphs">Illinois</text>
<text class="d" x="166" y="481.6" textLength="84.4" lengthAdjust="spacingAndGlyphs">Nevada</text>
<text class="d" x="281.2" y="519.1" textLength="54" lengthAdjust="spacingAndGlyphs">Utah</text>
<text class="d" x="407.8" y="535.6" textLength="104" lengthAdjust="spacingAndGlyphs">Colorado</text>
<text class="d" x="529.2" y="559.5" textLength="82" lengthAdjust="spacingAndGlyphs">Kansas</text>
<text class="d" x="689.6" y="565.1" textLength="98.8" lengthAdjust="spacingAndGlyphs">Missouri</text>
<text class="d" x="865.4" y="571.3" textLength="107.2" lengthAdjust="spacingAndGlyphs">Kentucky</text>
<text class="d" x="1000.4" y="551.25" textLength="88.75" lengthAdjust="spacingAndGlyphs">Virginia</text>
<text class="l" x="112" y="577.6" textLength="111" lengthAdjust="spacingAndGlyphs">California</text>
<text class="d" x="249.6" y="641.2" textLength="87.6" lengthAdjust="spacingAndGlyphs">Arizona</text>
<text class="d" x="382" y="661.2" textLength="135.6" lengthAdjust="spacingAndGlyphs">New Mexico</text>
<text class="d" x="605.4" y="649.6" textLength="115.4" lengthAdjust="spacingAndGlyphs">Oklahoma</text>
<text class="d" x="827.7" y="623.6" textLength="123.4" lengthAdjust="spacingAndGlyphs">Tennessee</text>
<text class="d" x="999" y="610" textLength="165.4" lengthAdjust="spacingAndGlyphs">North Carolina</text>
<text class="d" x="963.3" y="655.3" textLength="166.8" lengthAdjust="spacingAndGlyphs">South Carolina</text>
<text class="d" x="902.3" y="702.4" textLength="88.6" lengthAdjust="spacingAndGlyphs">Georgia</text>
<text class="d" x="758.7" y="716.9" textLength="128" lengthAdjust="spacingAndGlyphs">Mississippi</text>
<text class="d" x="703.15" y="761.2" textLength="110.3" lengthAdjust="spacingAndGlyphs">Louisiana</text>
<text class="l" x="576.65" y="770.1" textLength="67" lengthAdjust="spacingAndGlyphs">Texas</text>
<text class="l" x="971.75" y="827.9" textLength="79.5" lengthAdjust="spacingAndGlyphs">Florida</text>
<text class="d" x="173.75" y="847.5" textLength="76.1" lengthAdjust="spacingAndGlyphs">Alaska</text>
<text class="d" x="436.3" y="947.3" textLength="75.4" lengthAdjust="spacingAndGlyphs">Hawaii</text>
</g></g>
<rect x="400.5" y="1090" width="402" height="24" fill="url(#lg)"/>
<path d="M534.5 1090V1114M667.5 1090V1114" stroke="#fff" stroke-width="2" fill="none" opacity=".9"/><path d="M803.2 1090V1114" stroke="#e6ecef" stroke-width="1.4" fill="none"/>
<g font-size="22" fill="#666"><text x="400.6" y="1151.5" textLength="14" lengthAdjust="spacingAndGlyphs">0</text><text x="534.7" y="1151.5" text-anchor="middle" textLength="53.6" lengthAdjust="spacingAndGlyphs">500k</text><text x="668.7" y="1151.5" text-anchor="middle" textLength="72.7" lengthAdjust="spacingAndGlyphs">1,000k</text><text x="741.2" y="1151.5" textLength="52.5" lengthAdjust="spacingAndGlyphs">1,5…</text></g>
<text x="1181" y="1191" text-anchor="end" font-size="18" fill="#999" textLength="695.5" lengthAdjust="spacingAndGlyphs">Center for Disease Dynamics, Economics &amp; Policy (cddep.org) © Natural Earth</text>
</svg></body></html>
